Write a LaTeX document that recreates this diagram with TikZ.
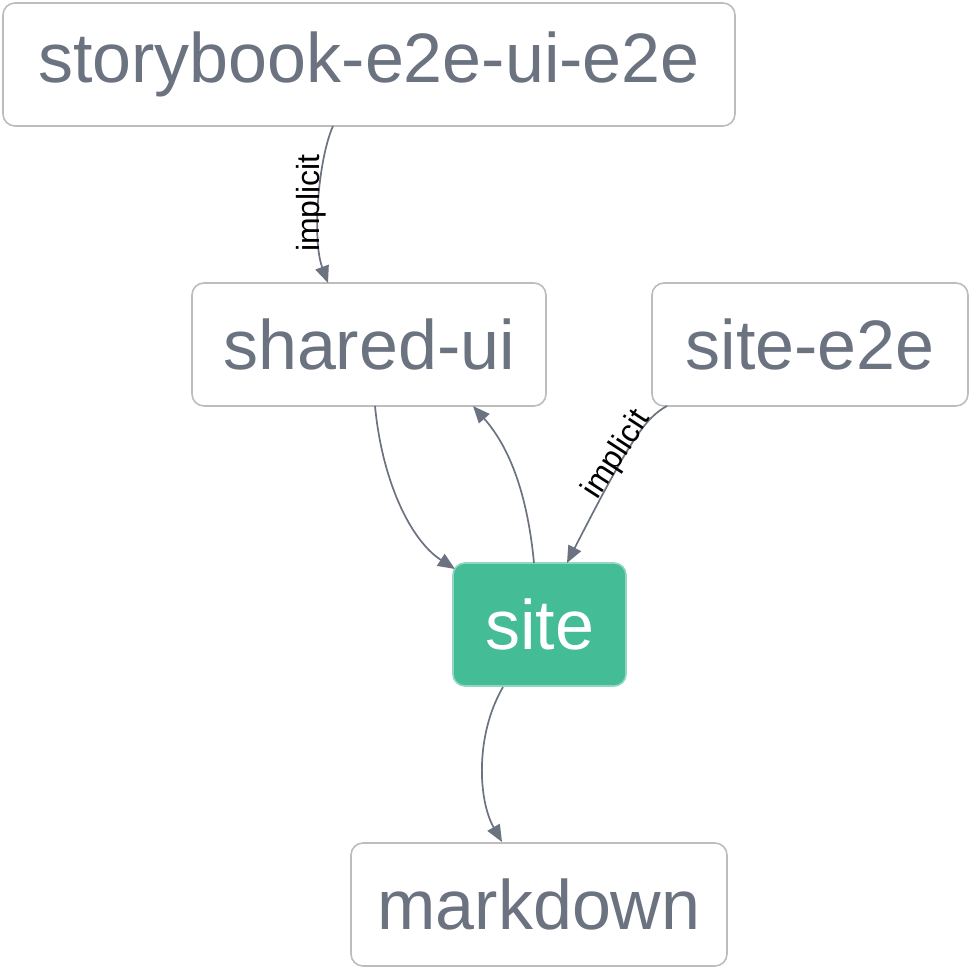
\documentclass[tikz,border=0pt]{standalone}
\usepackage{fontspec}
\setmainfont{Liberation Sans}
\usetikzlibrary{arrows.meta}
\definecolor{txtgray}{HTML}{6B7280}
\definecolor{boxborder}{HTML}{BDBDBD}
\definecolor{sitegreen}{HTML}{44BC96}
\definecolor{edgegray}{HTML}{6B7280}
\tikzset{
  proj/.style={draw=boxborder, line width=1.6pt, rounded corners=12pt, fill=white,
    text=txtgray, inner sep=0pt, minimum height=123pt,
    font=\fontsize{70}{80}\selectfont},
  focus/.style={proj, fill=sitegreen, draw=sitegreen!60!white, text=white},
  dep/.style={draw=edgegray, line width=1.7pt, -{Triangle[length=17pt,width=14pt]}},
  lbl/.style={font=\fontsize{32}{34}\selectfont, text=black, inner sep=0pt, fill=none}
}
\begin{document}
\begin{tikzpicture}[x=1pt,y=-1pt]
\useasboundingbox (0,0) rectangle (972,970);
\node[proj, minimum width=732pt] (sb) at (369,64.5) {storybook-e2e-ui-e2e};
\node[proj, minimum width=354pt] (sh) at (369,344.5) {shared-ui};
\node[proj, minimum width=316pt] (se) at (810,344.5) {site-e2e};
\node[focus, minimum width=173pt] (site) at (539.5,624.5) {site};
\node[proj, minimum width=376pt] (md) at (539,904.5) {markdown};
\coordinate (sbB) at (333,126);
\coordinate (shT) at (328,283);
\coordinate (shB) at (375,406);
\coordinate (shB2) at (473,406);
\coordinate (siteTL) at (455,569);
\coordinate (siteT1) at (534,563);
\coordinate (siteT2) at (567,563);
\coordinate (seB) at (667,406);
\coordinate (siteB) at (503,687);
\coordinate (mdT) at (502,842);
\draw[dep] (sbB) .. controls (318,160) and (312,240) .. (shT);
\draw[dep] (shB) .. controls (382,480) and (410,540) .. (siteTL);
\draw[dep] (siteT1) .. controls (528,500) and (512,450) .. (shB2);
\draw[dep] (seB) .. controls (645,418) and (630,440) .. (siteT2);
\draw[dep] (siteB) .. controls (475,735) and (478,800) .. (mdT);
\node[lbl, rotate=90] (l1) at (311,203) {implicit};
\node[lbl, rotate=57] (l2) at (617,455) {implicit};
\end{tikzpicture}
\end{document}
